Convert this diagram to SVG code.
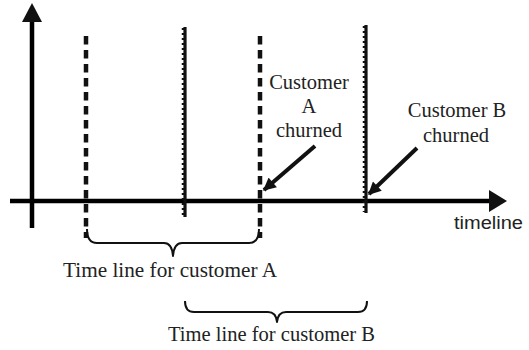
<svg xmlns="http://www.w3.org/2000/svg" width="529" height="350" viewBox="0 0 529 350">
<style>
.axis{stroke:#000;stroke-width:4.5;fill:none}
.dash{stroke:#111;stroke-width:4.5;stroke-dasharray:8.5 5.5;fill:none}
.jag{stroke:#111;stroke-width:3.2;fill:none}
.teeth{stroke:#111;stroke-width:2.5;stroke-dasharray:2 3;fill:none}
.brace{stroke:#111;stroke-width:2;fill:none;stroke-linejoin:round}
.ptr{stroke:#111;stroke-width:4;fill:none}
.sans{font-family:"Liberation Sans",Arial,sans-serif;font-size:18px;fill:#222}
</style>
<defs>
<marker id="ah" viewBox="0 0 10 10" refX="9" refY="5" markerWidth="3.6" markerHeight="3.2" orient="auto" markerUnits="strokeWidth">
<path d="M0,0 L10,5 L0,10 z" fill="#111"/>
</marker>
</defs>
<g id="axes">
<line class="axis" x1="32" y1="20" x2="32" y2="228"/>
<polygon points="32,3 42,22 22,22" fill="#111"/>
<line class="axis" x1="10" y1="201" x2="492" y2="201"/>
<polygon points="507,201 489,190 489,212" fill="#111"/>
</g>
<g id="line-a-start"><line class="dash" x1="86" y1="36" x2="86" y2="238"/></g>
<g id="line-b-start"><line class="jag" x1="185" y1="27" x2="185" y2="217"/><line class="teeth" x1="183" y1="28" x2="183" y2="216"/></g>
<g id="line-a-end"><line class="dash" x1="260" y1="36" x2="260" y2="238"/></g>
<g id="line-b-end"><line class="jag" x1="366" y1="25" x2="366" y2="213"/><line class="teeth" x1="364" y1="26" x2="364" y2="212"/></g>
<g id="connectors">
<line class="ptr" x1="315" y1="146" x2="264" y2="190" marker-end="url(#ah)"/>
<line class="ptr" x1="417" y1="148" x2="369" y2="194" marker-end="url(#ah)"/>
</g>
<g id="brace-a">
<path class="brace" d="M87,229 Q87,243 97,243 L164,243 Q172,243 173,256 Q174,243 182,243 L249,243 Q259,243 259,229"/>
<text font-family="'Liberation Serif', 'Times New Roman', serif" font-size="20.5" fill="#222" x="63" y="277" textLength="214" lengthAdjust="spacingAndGlyphs">Time line for customer A</text>
</g>
<g id="brace-b">
<path class="brace" d="M185,301 Q185,312 194,312 L268,312 Q276,312 277,322 Q278,312 286,312 L358,312 Q367,312 367,301"/>
<text font-family="'Liberation Serif', 'Times New Roman', serif" font-size="20.5" fill="#222" x="168" y="341" textLength="207" lengthAdjust="spacingAndGlyphs">Time line for customer B</text>
</g>
<g id="label-a" font-family="'Liberation Serif', 'Times New Roman', serif" font-size="20.5" fill="#222" text-anchor="middle">
<text x="309" y="89">Customer</text>
<text x="309" y="113">A</text>
<text x="309" y="137">churned</text>
</g>
<g id="label-b" font-family="'Liberation Serif', 'Times New Roman', serif" font-size="20.5" fill="#222" text-anchor="middle">
<text x="457" y="117">Customer B</text>
<text x="456" y="142">churned</text>
</g>
<g id="timeline-label">
<text class="sans" x="454" y="229" textLength="69" lengthAdjust="spacingAndGlyphs">timeline</text>
</g>
</svg>
